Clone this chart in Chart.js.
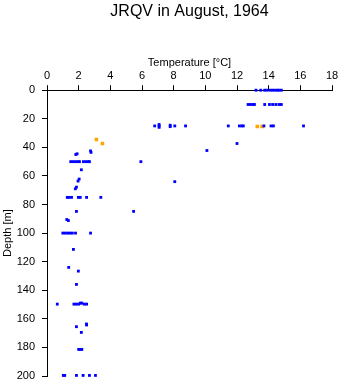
<!DOCTYPE html>
<html>
<head>
<meta charset="utf-8">
<script src="https://cdn.jsdelivr.net/npm/chart.js@4/dist/chart.umd.min.js"></script>
<style>
  html, body { margin: 0; padding: 0; background: #fff; }
  canvas { display: block; }
</style>
</head>
<body>
<canvas id="profile" width="341" height="384"></canvas>
<script>
// Chart text
const chartTitle = 'JRQV in August, 1964';
const xTitle = 'Temperature [°C]';
const yTitle = 'Depth [m]';

// Axis ranges / tick steps
const tempTicks = [0, 2, 4, 6, 8, 10, 12, 14, 16, 18];
const depthTicks = [0, 20, 40, 60, 80, 100, 120, 140, 160, 180, 200];

// Blue samples: temperature (°C) and depth (m), same order
const blueTemp = [
  13.2, 13.5, 13.75, 13.9, 14.1, 14.25, 14.4, 14.55, 14.65, 14.8,
  12.7, 12.85, 13.0, 13.1, 13.75, 14.05, 14.25, 14.45, 14.65, 14.8,
  6.8, 7.08, 7.08, 7.08, 7.78, 7.78, 8.07, 8.75, 11.45, 12.15, 12.3, 12.4, 13.7, 14.15, 14.3, 16.2,
  12.0, 10.1, 5.93, 8.07,
  1.82, 1.9, 2.75, 2.78,
  1.5, 1.65, 1.8, 1.95, 2.05, 2.3, 2.45, 2.6, 2.68,
  2.17, 2.03, 1.96, 1.86, 1.79,
  1.28, 1.4, 1.55, 1.98, 2.1, 2.5, 3.4,
  1.86, 5.47, 1.25, 1.35,
  1.0, 1.15, 1.3, 1.45, 1.6, 1.8, 2.75,
  1.67, 1.37, 1.98, 1.86,
  0.65, 1.7, 1.85, 2.0, 2.1, 2.2, 2.35, 2.5,
  1.86, 2.49, 2.5, 2.17,
  2.0, 2.1, 2.2,
  1.03, 1.12, 1.86, 2.28, 2.68, 3.06
];
const blueDepth = [
  0, 0, 0, 0, 0, 0, 0, 0, 0, 0,
  10, 10, 10, 10, 10, 10, 10, 10, 10, 10,
  25, 25, 24, 26, 24.5, 25.5, 25, 25, 25, 25, 25, 25, 25, 25, 25, 25,
  37.3, 42.2, 50, 64,
  45, 44.5, 42.5, 43.5,
  50, 50, 50, 50, 50, 50, 50, 50, 50,
  55.7, 62.2, 63.6, 67.8, 69,
  75, 75, 75, 75, 75, 75, 75,
  84.8, 84.8, 90.5, 91.2,
  100, 100, 100, 100, 100, 100, 100,
  111.4, 124, 126.6, 135.9,
  149.7, 149.7, 149.7, 149.7, 149, 149, 149.7, 149.7,
  165.5, 163.6, 164.3, 169.5,
  181.4, 181.4, 181.4,
  199.6, 199.6, 199.6, 199.6, 199.6, 199.6
];

// Orange samples
const orangeTemp = [3.12, 3.5, 13.28, 13.58];
const orangeDepth = [34.5, 37.3, 25.4, 25.4];

function toPoints(xs, ys) {
  return xs.map(function (x, i) { return { x: x, y: ys[i] }; });
}

const fontFamily = '"Liberation Sans", Arial, Helvetica, sans-serif';

const axisGrid = {
  display: true,
  drawOnChartArea: false,
  drawTicks: true,
  tickLength: 5,
  tickColor: '#000',
  color: '#000'
};

const ctx = document.getElementById('profile').getContext('2d');
new Chart(ctx, {
  type: 'scatter',
  data: {
    datasets: [
      {
        label: 'blue',
        data: toPoints(blueTemp, blueDepth),
        backgroundColor: '#0000ff',
        borderWidth: 0,
        pointStyle: 'rect',
        pointRadius: 2.0,
        clip: false
      },
      {
        label: 'orange',
        data: toPoints(orangeTemp, orangeDepth),
        backgroundColor: '#ffa500',
        borderWidth: 0,
        pointStyle: 'rect',
        pointRadius: 2.5,
        clip: false
      }
    ]
  },
  options: {
    responsive: false,
    animation: false,
    devicePixelRatio: 1,
    layout: { padding: { left: 0, right: 9, top: 0, bottom: 8 } },
    plugins: {
      legend: { display: false },
      tooltip: { enabled: false },
      title: {
        display: true,
        text: chartTitle,
        fullSize: false,
        color: '#000',
        font: { family: fontFamily, size: 16, weight: 'normal' },
        padding: { top: 2, bottom: 35 }
      }
    },
    scales: {
      x: {
        type: 'linear',
        position: 'top',
        min: tempTicks[0],
        max: tempTicks[tempTicks.length - 1],
        afterBuildTicks: function (scale) {
          scale.ticks = tempTicks.map(function (v) { return { value: v }; });
        },
        afterFit: function (scale) {
          scale.height = 34;
          scale.paddingLeft = 0;
          scale.paddingRight = 0;
        },
        ticks: {
          color: '#000',
          padding: 3,
          maxRotation: 0,
          font: { family: fontFamily, size: 11 }
        },
        grid: axisGrid,
        border: { display: true, color: '#000', width: 1 },
        title: {
          display: true,
          text: xTitle,
          color: '#000',
          padding: { top: 0, bottom: 0 },
          font: { family: fontFamily, size: 11 }
        }
      },
      y: {
        type: 'linear',
        reverse: true,
        min: depthTicks[0],
        max: depthTicks[depthTicks.length - 1],
        afterBuildTicks: function (scale) {
          scale.ticks = depthTicks.map(function (v) { return { value: v }; });
        },
        afterFit: function (scale) {
          scale.width = 47;
          scale.paddingTop = 0;
          scale.paddingBottom = 0;
        },
        ticks: {
          color: '#000',
          padding: 7,
          font: { family: fontFamily, size: 11 }
        },
        grid: axisGrid,
        border: { display: true, color: '#000', width: 1 },
        title: {
          display: true,
          text: yTitle,
          color: '#000',
          padding: { top: 1, bottom: 0 },
          font: { family: fontFamily, size: 11 }
        }
      }
    }
  }
});
</script>
</body>
</html>
